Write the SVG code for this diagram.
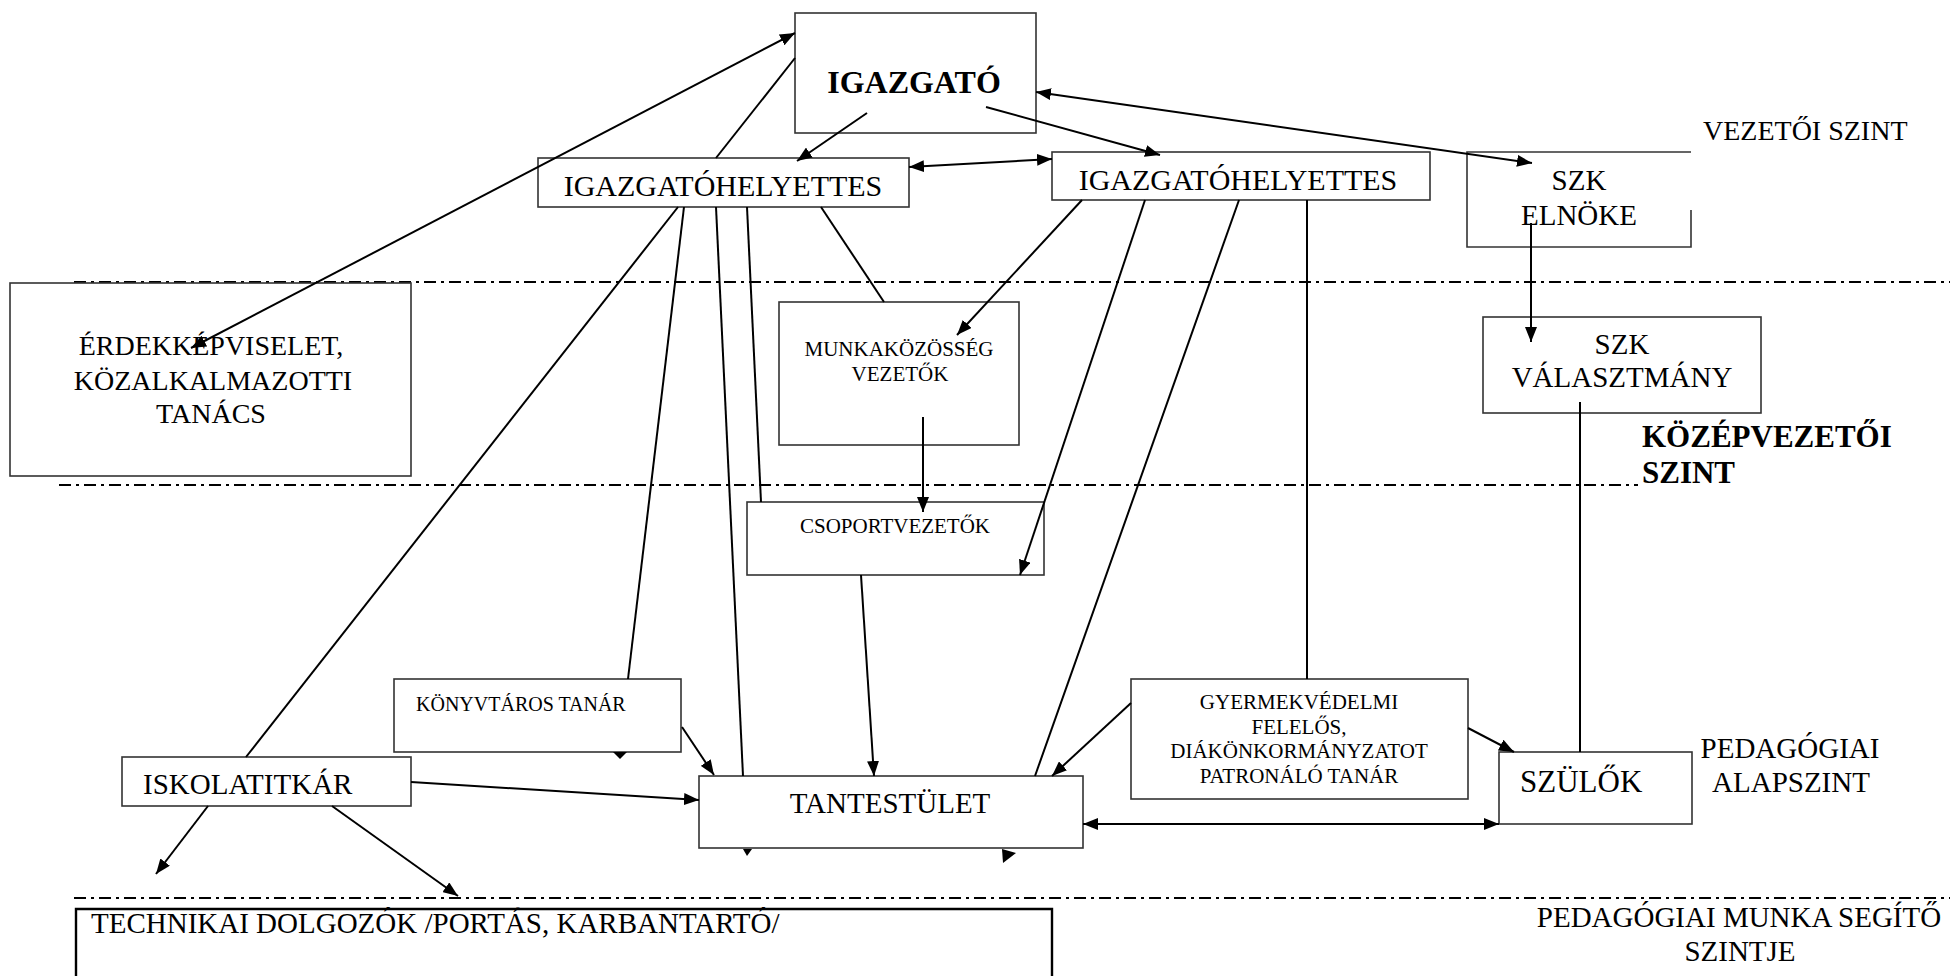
<svg xmlns="http://www.w3.org/2000/svg" width="1950" height="976" viewBox="0 0 1950 976">
<style>
text{font-family:"Liberation Serif","Times New Roman",serif;fill:#000}
.box{fill:#fff;stroke:#333;stroke-width:1.6}
.c{stroke:#000;stroke-width:2;fill:none}
.a{stroke:#000;stroke-width:2;fill:none;marker-end:url(#ah)}
.aa{stroke:#000;stroke-width:2;fill:none;marker-start:url(#ah);marker-end:url(#ah)}
.dd{stroke:#000;stroke-width:2;fill:none;stroke-dasharray:12 5 3 5}
.m{text-anchor:middle}
</style>
<defs>
<marker id="ah" viewBox="0 0 15 12" refX="15" refY="6" markerWidth="15" markerHeight="12" orient="auto-start-reverse" markerUnits="userSpaceOnUse"><path d="M0,0 L15,6 L0,12 z" fill="#000"/></marker>
</defs>
<rect width="1950" height="976" fill="#fff"/>

<g id="levels">
<line class="dd" x1="74" y1="282" x2="1950" y2="282"/>
<line class="dd" x1="59" y1="485" x2="1638" y2="485"/>
<line class="dd" x1="74" y1="898" x2="1950" y2="898"/>
</g>

<g id="igazgato"><rect class="box" x="795" y="13" width="241" height="120"/><text class="m" x="914" y="93" font-size="32" font-weight="bold">IGAZGATÓ</text></g>
<g id="igh1"><rect class="box" x="538" y="158" width="371" height="49"/><text class="m" x="723" y="196" font-size="30">IGAZGATÓHELYETTES</text></g>
<g id="igh2"><rect class="box" x="1052" y="152" width="378" height="48"/><text class="m" x="1238" y="190" font-size="30">IGAZGATÓHELYETTES</text></g>
<g id="szk-elnoke"><path class="box" d="M1691,210 V247 H1467 V152 H1691" fill="#fff"/><text class="m" x="1579" y="190" font-size="29">SZK</text><text class="m" x="1579" y="225" font-size="29">ELNÖKE</text></g>
<g id="vezetoi-szint"><text x="1703" y="140" font-size="28">VEZETŐI SZINT</text></g>
<g id="erdek"><rect class="box" x="10" y="283" width="401" height="193"/><text class="m" x="211" y="355" font-size="28">ÉRDEKKÉPVISELET,</text><text class="m" x="213" y="390" font-size="28">KÖZALKALMAZOTTI</text><text class="m" x="211" y="423" font-size="28">TANÁCS</text></g>
<g id="munkakozosseg"><rect class="box" x="779" y="302" width="240" height="143"/><text class="m" x="899" y="356" font-size="21">MUNKAKÖZÖSSÉG</text><text class="m" x="900" y="381" font-size="21">VEZETŐK</text></g>
<g id="csoport"><rect class="box" x="747" y="502" width="297" height="73"/><text class="m" x="895" y="533" font-size="21">CSOPORTVEZETŐK</text></g>
<g id="szk-valasztmany"><rect class="box" x="1483" y="317" width="278" height="96"/><text class="m" x="1622" y="354" font-size="29">SZK</text><text class="m" x="1622" y="387" font-size="29">VÁLASZTMÁNY</text></g>
<g id="kozepvezetoi"><text x="1642" y="447" font-size="31" font-weight="bold">KÖZÉPVEZETŐI</text><text x="1642" y="483" font-size="31" font-weight="bold">SZINT</text></g>
<g id="konyvtaros"><rect class="box" x="394" y="679" width="287" height="73"/><text x="416" y="711" font-size="20">KÖNYVTÁROS TANÁR</text></g>
<g id="iskolatitkar"><rect class="box" x="122" y="757" width="289" height="49"/><text x="143" y="794" font-size="29">ISKOLATITKÁR</text></g>
<g id="tantestulet"><rect class="box" x="699" y="776" width="384" height="72"/><text class="m" x="890" y="813" font-size="29">TANTESTÜLET</text></g>
<g id="gyermek"><rect class="box" x="1131" y="679" width="337" height="120"/><text class="m" x="1299" y="709" font-size="21">GYERMEKVÉDELMI</text><text class="m" x="1299" y="734" font-size="21">FELELŐS,</text><text class="m" x="1299" y="758" font-size="21">DIÁKÖNKORMÁNYZATOT</text><text class="m" x="1299" y="783" font-size="21">PATRONÁLÓ TANÁR</text></g>
<g id="szulok"><rect class="box" x="1499" y="752" width="193" height="72"/><text x="1520" y="792" font-size="31">SZÜLŐK</text></g>
<g id="ped-alap"><text class="m" x="1790" y="758" font-size="29">PEDAGÓGIAI</text><text class="m" x="1791" y="792" font-size="29">ALAPSZINT</text></g>
<g id="technikai"><path d="M76,990 V909 H1052 V990" fill="#fff" stroke="#000" stroke-width="2.4"/><text x="91" y="933" font-size="29">TECHNIKAI DOLGOZÓK /PORTÁS, KARBANTARTÓ/</text></g>
<g id="ped-seg"><text class="m" x="1739" y="927" font-size="29">PEDAGÓGIAI MUNKA SEGÍTŐ</text><text class="m" x="1740" y="961" font-size="29">SZINTJE</text></g>

<g id="connectors">
<line class="aa" x1="191" y1="348" x2="795" y2="33"/>
<line class="c" x1="716" y1="158" x2="795" y2="58"/>
<line class="a" x1="867" y1="113" x2="797" y2="161"/>
<line class="a" x1="986" y1="107" x2="1160" y2="155"/>
<line class="aa" x1="1036" y1="92" x2="1532" y2="163"/>
<line class="aa" x1="909" y1="167" x2="1052" y2="159"/>
<line class="c" x1="678" y1="207" x2="246" y2="757"/>
<line class="c" x1="684" y1="207" x2="628" y2="679"/>
<line class="c" x1="716" y1="207" x2="743" y2="776"/>
<line class="c" x1="747" y1="207" x2="761" y2="502"/>
<line class="c" x1="821" y1="207" x2="884" y2="302"/>
<line class="a" x1="1082" y1="200" x2="957" y2="335"/>
<line class="a" x1="1145" y1="200" x2="1020" y2="575"/>
<line class="c" x1="1239" y1="200" x2="1035" y2="776"/>
<line class="c" x1="1307" y1="200" x2="1307" y2="679"/>
<line class="a" x1="1531" y1="223" x2="1531" y2="342"/>
<line class="c" x1="1580" y1="402" x2="1580" y2="752"/>
<line class="a" x1="923" y1="417" x2="923" y2="512"/>
<line class="a" x1="861" y1="575" x2="874" y2="776"/>
<line class="a" x1="682" y1="727" x2="714" y2="775"/>
<line class="a" x1="411" y1="782" x2="699" y2="800"/>
<line class="a" x1="208" y1="806" x2="156" y2="874"/>
<line class="a" x1="332" y1="806" x2="458" y2="896"/>
<line class="a" x1="1131" y1="703" x2="1052" y2="776"/>
<line class="a" x1="1468" y1="728" x2="1514" y2="752"/>
<line class="aa" x1="1083" y1="824" x2="1499" y2="824"/>
<polygon points="613,752 627,752 620,759" fill="#000"/>
<polygon points="743,849 752,849 747,856" fill="#000"/>
<polygon points="1002,849 1016,853 1003,863" fill="#000"/>
</g>
</svg>
